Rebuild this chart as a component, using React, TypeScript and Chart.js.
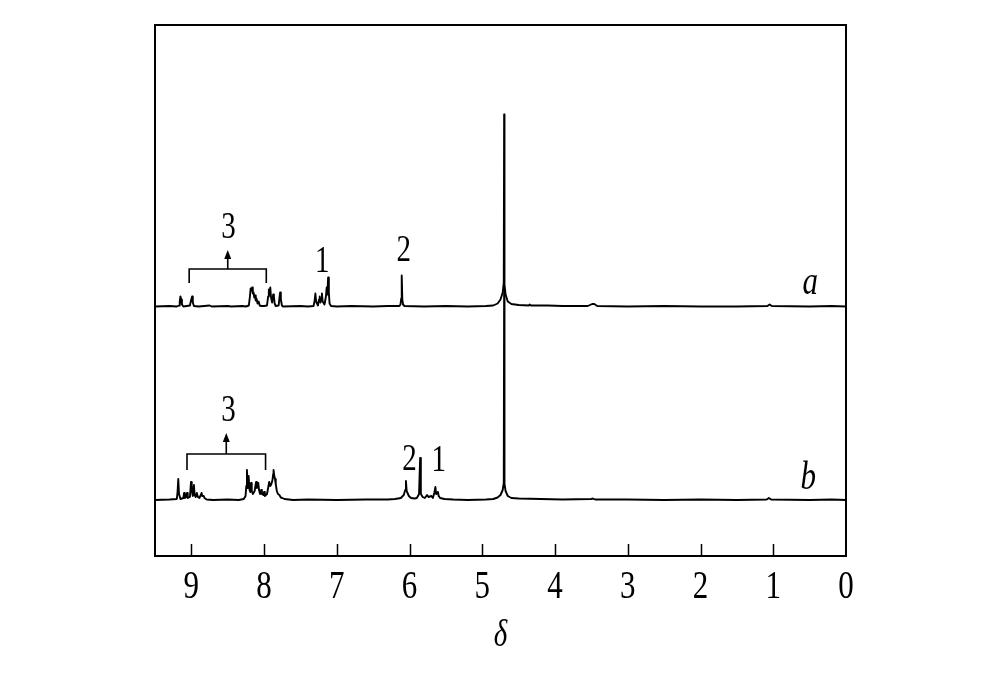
import React, { useEffect, useRef } from "react";
import { Chart, registerables } from "chart.js";

Chart.register(...registerables);

// chemical shift (δ, ppm) and intensity (above each trace's own baseline)
const specA: [number, number][] = [
  [9.5, 0], [9.3, 0.5], [9.2, 0], [9.17, 1], [9.16, 5], [9.15, 10], [9.14, 7], [9.13, 2], [9.11, 0],
  [9.02, 1], [9.005, 6], [8.99, 10], [8.98, 4], [8.965, 0.5], [8.9, 0], [8.75, 1], [8.72, 0],
  [8.5, 0.5], [8.45, 0], [8.3, 0.5], [8.25, 0], [8.21, 1], [8.195, 10], [8.185, 18], [8.175, 16],
  [8.165, 19], [8.155, 13], [8.145, 14], [8.135, 9], [8.125, 11], [8.115, 6], [8.105, 8], [8.09, 3],
  [8.075, 5], [8.06, 1], [8.04, 0.5], [8.0, 0.5], [7.96, 1], [7.945, 10], [7.935, 17], [7.925, 12],
  [7.915, 19], [7.905, 9], [7.89, 4], [7.875, 12], [7.865, 10], [7.855, 3], [7.84, 0.5], [7.8, 1],
  [7.79, 8], [7.78, 14], [7.77, 7], [7.755, 1], [7.74, 0], [7.5, 0.5], [7.4, 0], [7.32, 0.5],
  [7.305, 6], [7.295, 13], [7.285, 5], [7.26, 1], [7.245, 7], [7.235, 10], [7.225, 4], [7.215, 8],
  [7.205, 13], [7.195, 5], [7.17, 2], [7.15, 10], [7.14, 19], [7.13, 12], [7.12, 29], [7.11, 14],
  [7.1, 3], [7.08, 0.5], [7.0, 0], [6.8, 0.5], [6.5, 0], [6.3, 0.5], [6.14, 0.5], [6.125, 2],
  [6.115, 8], [6.108, 31], [6.1, 7], [6.09, 2], [6.07, 0.5], [5.8, 0], [5.5, 0.5], [5.2, 0],
  [4.95, 0.5], [4.85, 1], [4.79, 3], [4.75, 7], [4.72, 14], [4.705, 24], [4.7, 192], [4.695, 22],
  [4.68, 12], [4.65, 5], [4.6, 2.5], [4.5, 1.5], [4.36, 1], [4.35, 2], [4.33, 1], [4.1, 1],
  [3.9, 0.5], [3.55, 0.5], [3.49, 2.5], [3.46, 2.5], [3.42, 0.5], [3.0, 0], [2.5, 0.5], [2.0, 0],
  [1.5, 0], [1.08, 0.5], [1.05, 2], [1.02, 0.5], [0.5, 0], [0.2, 0.5], [0, 0],
];

const specB: [number, number][] = [
  [9.5, 0], [9.3, 0.5], [9.2, 1], [9.19, 8], [9.18, 21], [9.17, 6], [9.15, 1], [9.11, 2], [9.1, 7],
  [9.09, 2], [9.07, 3], [9.06, 7], [9.05, 2], [9.02, 3], [9.005, 18], [8.995, 10], [8.98, 4],
  [8.965, 15], [8.955, 5], [8.94, 3], [8.925, 7], [8.91, 3], [8.89, 2], [8.87, 5], [8.86, 7],
  [8.85, 4], [8.83, 4], [8.82, 2], [8.79, 0.5], [8.7, 0], [8.5, 0.5], [8.35, 0], [8.28, 1],
  [8.255, 4], [8.245, 14], [8.236, 30], [8.225, 12], [8.213, 24], [8.2, 10], [8.19, 8], [8.18, 17],
  [8.17, 9], [8.155, 6], [8.13, 9], [8.12, 14], [8.11, 18], [8.1, 12], [8.08, 17], [8.07, 10],
  [8.055, 6], [8.04, 10], [8.03, 6], [8.01, 5], [8.0, 8], [7.99, 4], [7.96, 6], [7.945, 12],
  [7.93, 18], [7.915, 14], [7.9, 16], [7.885, 20], [7.875, 26], [7.87, 30], [7.86, 24], [7.85, 21],
  [7.84, 16], [7.825, 9], [7.81, 6], [7.79, 5], [7.77, 2.5], [7.75, 2], [7.72, 1], [7.6, 0],
  [7.4, 0.5], [7.0, 0], [6.6, 0.5], [6.3, 0.5], [6.2, 1], [6.12, 2], [6.08, 5], [6.06, 10],
  [6.05, 19], [6.04, 9], [6.01, 4], [5.98, 2], [5.93, 1.5], [5.9, 2], [5.87, 6], [5.855, 42],
  [5.845, 6], [5.82, 3], [5.79, 2], [5.76, 5], [5.74, 3], [5.7, 4], [5.68, 2], [5.66, 7],
  [5.645, 13], [5.635, 6], [5.61, 8], [5.6, 4], [5.58, 2], [5.52, 1], [5.4, 0.5], [5.2, 0],
  [4.95, 0.5], [4.85, 1], [4.79, 2.5], [4.75, 5], [4.72, 10], [4.705, 17], [4.7, 210], [4.695, 16],
  [4.68, 9], [4.65, 4], [4.6, 2], [4.5, 1.5], [4.2, 1], [3.9, 0.5], [3.5, 1], [3.48, 1.5],
  [3.45, 0.5], [3.0, 0.5], [2.5, 0], [2.0, 0.5], [1.5, 0], [1.09, 0.5], [1.06, 2], [1.03, 0.5],
  [0.5, 0], [0.2, 0.5], [0, 0],
];

// vertical stacking offsets of the two traces
const offsetA = 249.5;
const offsetB = 56;

const tickValues = [9, 8, 7, 6, 5, 4, 3, 2, 1, 0];
const tickLabels = ["9", "8", "7", "6", "5", "4", "3", "2", "1", "0"];
const xTitle = "δ";

// peak-number annotations: [text, δ, y]
const peakLabels: [string, number, number][] = [
  ["3", 8.49, 328],
  ["1", 7.2, 294],
  ["2", 6.08, 305],
  ["3", 8.49, 145],
  ["2", 6.0, 96],
  ["1", 5.6, 95],
];
// brackets: [δ left, δ right, y of bar, y of leg bottom, y of arrow tip]
const brackets: [number, number, number, number, number][] = [
  [9.03, 7.97, 287, 273, 306],
  [9.06, 7.98, 102, 86, 123],
];
// trace names: [text, δ, y]
const traceNames: [string, number, number][] = [
  ["a", 0.49, 273],
  ["b", 0.52, 78],
];

const FONT = "'Liberation Serif', 'Times New Roman', serif";
const STRETCH = 1.3;

function stretchedText(ctx: CanvasRenderingContext2D, text: string, x: number, y: number, font: string) {
  ctx.save();
  ctx.translate(x, y);
  ctx.scale(1, STRETCH);
  ctx.font = font;
  ctx.textAlign = "center";
  ctx.textBaseline = "middle";
  ctx.fillStyle = "#000";
  ctx.fillText(text, 0, 0);
  ctx.restore();
}

const decorPlugin = {
  id: "decor",
  afterDraw(chart: any) {
    const ctx: CanvasRenderingContext2D = chart.ctx;
    const { left, right, top, bottom } = chart.chartArea;
    const xs = chart.scales.x;
    const ys = chart.scales.y;
    ctx.save();
    ctx.strokeStyle = "#000";
    ctx.lineWidth = 2;
    ctx.strokeRect(left, top, right - left, bottom - top);
    // inward ticks
    ctx.lineWidth = 1.5;
    tickValues.forEach((v, i) => {
      const px = Math.round(xs.getPixelForValue(v)) + 0.5;
      if (v !== 0) {
        ctx.beginPath();
        ctx.moveTo(px, bottom);
        ctx.lineTo(px, bottom - 12);
        ctx.stroke();
      }
      stretchedText(ctx, tickLabels[i], xs.getPixelForValue(v), bottom + 31, `31px ${FONT}`);
    });
    stretchedText(ctx, xTitle, (left + right) / 2, bottom + 80, `italic 29px ${FONT}`);

    // brackets with arrows
    ctx.lineWidth = 1.6;
    brackets.forEach(([d1, d2, yBar, yLeg, yTip]) => {
      const x1 = xs.getPixelForValue(d1);
      const x2 = xs.getPixelForValue(d2);
      const yb = ys.getPixelForValue(yBar);
      const yl = ys.getPixelForValue(yLeg);
      const yt = ys.getPixelForValue(yTip);
      const xm = (x1 + x2) / 2;
      ctx.beginPath();
      ctx.moveTo(x1, yl);
      ctx.lineTo(x1, yb);
      ctx.lineTo(x2, yb);
      ctx.lineTo(x2, yl);
      ctx.moveTo(xm, yb);
      ctx.lineTo(xm, yt + 6);
      ctx.stroke();
      ctx.beginPath();
      ctx.moveTo(xm, yt);
      ctx.lineTo(xm - 3.5, yt + 9);
      ctx.lineTo(xm + 3.5, yt + 9);
      ctx.closePath();
      ctx.fillStyle = "#000";
      ctx.fill();
    });
    peakLabels.forEach(([t, d, y]) => {
      stretchedText(ctx, t, xs.getPixelForValue(d), ys.getPixelForValue(y), `29px ${FONT}`);
    });
    traceNames.forEach(([t, d, y]) => {
      stretchedText(ctx, t, xs.getPixelForValue(d), ys.getPixelForValue(y), `italic 31px ${FONT}`);
    });
    ctx.restore();
  },
};

export default function App() {
  const ref = useRef<HTMLCanvasElement | null>(null);
  useEffect(() => {
    document.body.style.margin = "0";
    const canvas = ref.current!;
    const chart = new Chart(canvas, {
      type: "line",
      data: {
        datasets: [
          {
            label: "a",
            data: specA.map(([x, y]) => ({ x, y: y + offsetA })),
            borderColor: "#000",
            borderWidth: 1.9,
            pointRadius: 0,
            tension: 0,
            borderJoinStyle: "round",
          },
          {
            label: "b",
            data: specB.map(([x, y]) => ({ x, y: y + offsetB })),
            borderColor: "#000",
            borderWidth: 1.9,
            pointRadius: 0,
            tension: 0,
            borderJoinStyle: "round",
          },
        ],
      },
      options: {
        responsive: false,
        animation: false,
        parsing: false,
        layout: { padding: { left: 155, right: 154, top: 25, bottom: 123 } },
        plugins: { legend: { display: false }, tooltip: { enabled: false } },
        scales: {
          x: { type: "linear", min: 0, max: 9.5, reverse: true, display: false },
          y: { type: "linear", min: 0, max: 531, display: false },
        },
      },
      plugins: [decorPlugin],
    } as any);
    return () => chart.destroy();
  }, []);
  return (
    <div style={{ width: 1000, height: 679, background: "#fff" }}>
      <canvas ref={ref} width={1000} height={679} />
    </div>
  );
}
